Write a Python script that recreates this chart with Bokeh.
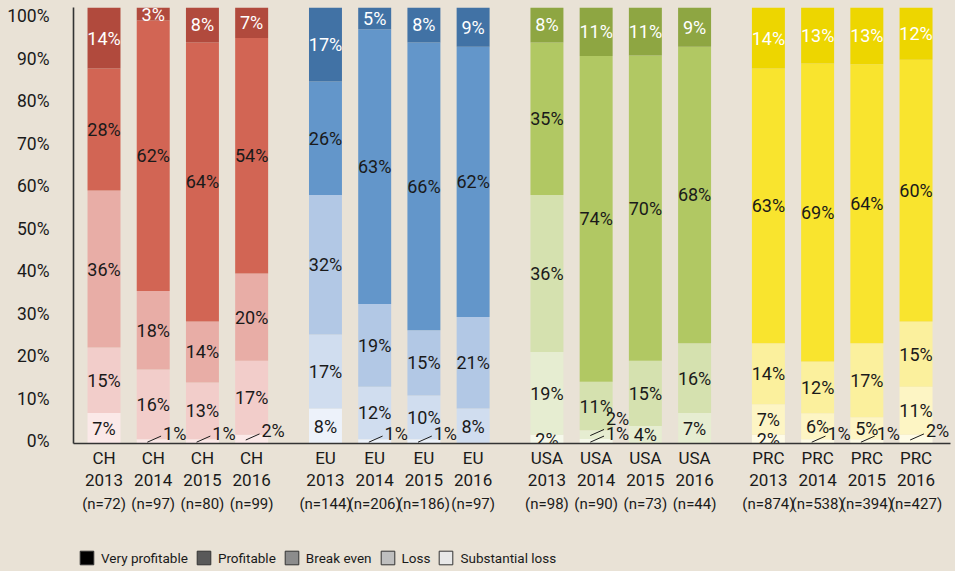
import numpy as np
from bokeh.plotting import figure
from bokeh.layouts import column
from bokeh.models import (FixedTicker, LinearAxis, Legend, LegendItem,
                          ColumnDataSource, Range1d)
from bokeh.core.properties import value
from bokeh.embed import file_html
from bokeh.resources import INLINE

# ---------------- data ----------------
groups = ["CH", "EU", "USA", "PRC"]
years = ["2013", "2014", "2015", "2016"]
n_counts = [72, 97, 80, 99, 144, 206, 186, 97, 98, 90, 73, 44, 874, 538, 394, 427]
categories = ["Very profitable", "Profitable", "Break even", "Loss", "Substantial loss"]

substantial_loss = [7, 1, 1, 2, 8, 1, 1, 0, 2, 1, 0, 0, 2, 1, 1, 2]
loss = [15, 16, 13, 17, 17, 12, 10, 8, 19, 2, 4, 7, 7, 6, 5, 11]
break_even = [36, 18, 14, 20, 32, 19, 15, 21, 36, 11, 15, 16, 14, 12, 17, 15]
profitable = [28, 62, 64, 54, 26, 63, 66, 62, 35, 74, 70, 68, 63, 69, 64, 60]
very_profitable = [14, 3, 8, 7, 17, 5, 8, 9, 8, 11, 11, 9, 14, 13, 13, 12]

y_ticks = [0, 10, 20, 30, 40, 50, 60, 70, 80, 90, 100]

# ---------------- styles ----------------
BG = "#e9e2d6"
group_colors = {  # bottom (substantial loss) -> top (very profitable)
    "CH": ["#fbe9e8", "#f2cdca", "#e8ada6", "#d26554", "#b14a3d"],
    "EU": ["#edf2fa", "#d0ddef", "#b2c8e5", "#6396ca", "#4172a5"],
    "USA": ["#f5f8ea", "#e6edd1", "#d5e1af", "#b1c863", "#8ea642"],
    "PRC": ["#fefbe6", "#fdf5c4", "#fbf09d", "#f9e42e", "#edd600"],
}
legend_colors = ["#000000", "#595959", "#8c8c8c", "#bfbfbf", "#e8e8e8"]
FONT = "Roboto"
TXT = "#1a1a1a"

# ---------------- geometry ----------------
xs, grp_of, yr_of = [], [], []
for g, grp in enumerate(groups):
    for j, yr in enumerate(years):
        xs.append(g * 4.5 + j)
        grp_of.append(grp)
        yr_of.append(yr)

vals = np.array([substantial_loss, loss, break_even, profitable, very_profitable],
                dtype=float)  # shape (5, 16)
totals = vals.sum(axis=0)
norm = vals / totals * 100.0
tops = np.cumsum(norm, axis=0)
bottoms = tops - norm

p = figure(width=955, height=530, x_range=Range1d(-0.62, 17.20),
           y_range=Range1d(0, 100), output_backend="svg", toolbar_location=None,
           min_border_left=73, min_border_right=5, min_border_top=7,
           min_border_bottom=87, background_fill_color=BG, border_fill_color=BG,
           outline_line_color=None)
p.grid.visible = False

bar_w = 0.67
for k in range(5):
    src = ColumnDataSource(dict(
        x=xs, top=tops[k], bottom=bottoms[k],
        color=[group_colors[g][k] for g in grp_of]))
    p.vbar(x="x", top="top", bottom="bottom", width=bar_w, source=src,
           fill_color="color", line_color=None)

# labels
lx, ly, lt, lc = [], [], [], []
cx, cy, ct = [], [], []
sx0, sy0, sx1, sy1 = [], [], [], []
for i in range(len(xs)):
    last_label_y = -10
    for k in range(5):
        v = vals[k, i]
        if v <= 0:
            continue
        mid = bottoms[k, i] + norm[k, i] / 2
        txt = f"{int(v)}%"
        if v <= 2 and yr_of[i] != "2013":
            y0 = mid - 0.2
            y1 = y0 + 1.4
            yl = max(y1 + 0.7, last_label_y + 3.3)
            last_label_y = yl
            sx0.append(xs[i] - 0.12); sy0.append(y0)
            sx1.append(xs[i] + 0.16); sy1.append(y1)
            cx.append(xs[i] + 0.2); cy.append(yl); ct.append(txt)
        else:
            lx.append(xs[i]); ly.append(mid); lt.append(txt)
            lc.append("#ffffff" if k == 4 else TXT)

p.text(x="x", y="y", text="t", text_color="c",
       source=ColumnDataSource(dict(x=lx, y=ly, t=lt, c=lc)),
       text_font=value(FONT), text_font_size=value("18px"),
       text_align="center", text_baseline="middle")
p.segment(x0=sx0, y0=sy0, x1=sx1, y1=sy1, line_color=TXT, line_width=1)
p.text(x=cx, y=cy, text=ct, text_color=TXT,
       text_font=value(FONT), text_font_size=value("18px"),
       text_align="left", text_baseline="middle")

# y axis
yt = [round(0.53 + 0.975 * v, 3) for v in y_ticks]
yax = p.yaxis[0]
yax.ticker = FixedTicker(ticks=yt)
yax.major_label_overrides = {t: f"{v}%" for t, v in zip(yt, y_ticks)}
yax.major_tick_line_color = None
yax.minor_tick_line_color = None
yax.axis_line_color = "#333333"
yax.axis_line_width = 1.6
yax.major_label_standoff = 18
yax.major_label_text_font = FONT
yax.major_label_text_font_size = "17.5px"
yax.major_label_text_color = TXT

# x axes
xax = p.xaxis[0]
xax.ticker = FixedTicker(ticks=xs)
xax.major_label_overrides = {x: g for x, g in zip(xs, grp_of)}
xax.major_tick_line_color = None
xax.minor_tick_line_color = None
xax.axis_line_color = "#333333"
xax.axis_line_width = 1.6
xax.major_label_standoff = -2
xax.major_label_text_font = FONT
xax.major_label_text_font_size = "17px"
xax.major_label_text_color = TXT

ax2 = LinearAxis(ticker=FixedTicker(ticks=xs),
                 major_label_overrides={x: y for x, y in zip(xs, yr_of)})
ax3 = LinearAxis(ticker=FixedTicker(ticks=xs),
                 major_label_overrides={x: f"(n={n})" for x, n in zip(xs, n_counts)})
for ax, fs, so in ((ax2, "17px", -3), (ax3, "15px", 0)):
    ax.major_tick_line_color = None
    ax.minor_tick_line_color = None
    ax.axis_line_color = None
    ax.major_label_standoff = so
    ax.major_label_text_font = FONT
    ax.major_label_text_font_size = fs
    ax.major_label_text_color = TXT
    p.add_layout(ax, "below")

# legend (separate strip below the chart)
lf = figure(width=955, height=41, x_range=Range1d(0, 1), y_range=Range1d(0, 1),
            output_backend="svg", toolbar_location=None,
            x_axis_type=None, y_axis_type=None, min_border=0,
            background_fill_color=BG, border_fill_color=BG,
            outline_line_color=None)
lf.grid.visible = False
items = []
for name, col in zip(categories, legend_colors):
    r = lf.vbar(x=[np.nan], top=[np.nan], width=0.5, fill_color=col,
                line_color="#333333", line_width=1)
    items.append(LegendItem(label=name, renderers=[r]))
legend = Legend(items=items, orientation="horizontal", location=(5, 5),
                glyph_width=17, glyph_height=17, label_standoff=6, spacing=7,
                padding=0, margin=0, border_line_color=None,
                background_fill_alpha=0,
                label_text_font=FONT,
                label_text_font_size="13.5px", label_text_color=TXT,
                label_height=17)
lf.add_layout(legend, "center")

layout = column(p, lf, spacing=0, styles={"background-color": BG})
open("out.html", "w").write(file_html(layout, INLINE))
